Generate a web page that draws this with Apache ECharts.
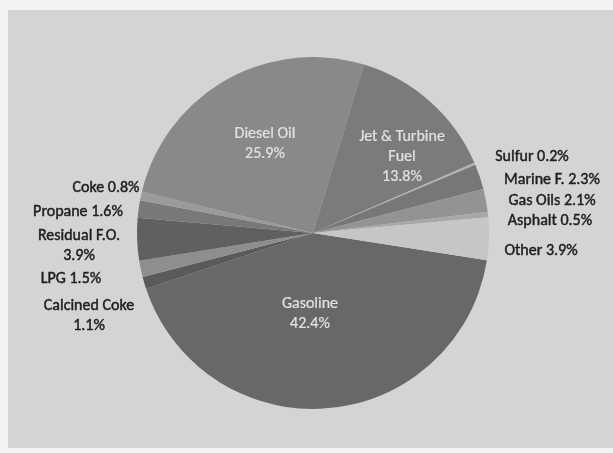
<!DOCTYPE html>
<html>
<head>
<meta charset="utf-8">
<style>
  html, body { margin: 0; padding: 0; background: #f3f3f3; }
  #chart { width: 613px; height: 453px; }
</style>
<script src="https://cdn.jsdelivr.net/npm/echarts@6/dist/echarts.min.js"></script>
</head>
<body>
<div id="chart"></div>
<script>
// Refinery product shares (%), listed clockwise starting with Gasoline
const products = ['Gasoline', 'Calcined Coke', 'LPG', 'Residual F.O.', 'Propane', 'Coke',
                  'Diesel Oil', 'Jet & Turbine Fuel', 'Sulfur', 'Marine F.', 'Gas Oils', 'Asphalt', 'Other'];
const shares = [42.4, 1.1, 1.5, 3.9, 1.6, 0.8, 25.9, 13.8, 0.2, 2.3, 2.1, 0.5, 3.9];

// Grey shade for each slice
const sliceColors = ['#686868', '#5a5a5a', '#8e8e8e', '#606060', '#787878', '#9a9a9a',
                     '#898989', '#7b7b7b', '#b4b4b4', '#777777', '#939393', '#a8a8a8', '#c6c6c6'];

// How each label is written: line breaks inside the name, and before the value
const labelText = {
  'Gasoline': 'Gasoline\n{v}',
  'Diesel Oil': 'Diesel Oil\n{v}',
  'Jet & Turbine Fuel': 'Jet & Turbine\nFuel\n{v}',
  'Residual F.O.': 'Residual F.O.\n{v}',
  'Calcined Coke': 'Calcined Coke\n{v}'
};
const insideLabels = ['Gasoline', 'Diesel Oil', 'Jet & Turbine Fuel'];

// Label anchor points (centre of each text block) in chart pixels
const labelSpot = {
  'Gasoline': [310, 314],
  'Diesel Oil': [265, 144],
  'Jet & Turbine Fuel': [402, 157],
  'Sulfur': [532, 157],
  'Marine F.': [552, 180],
  'Gas Oils': [552, 201],
  'Asphalt': [550, 221],
  'Other': [541, 251],
  'Coke': [106, 188],
  'Propane': [78, 212],
  'Residual F.O.': [79, 246],
  'LPG': [71, 279],
  'Calcined Coke': [89, 316]
};

const FONT = 'Carlito, Lato, "Open Sans", sans-serif';

const data = products.map((name, i) => {
  const inside = insideLabels.includes(name);
  const ink = inside ? '#e2e2e2' : '#1e1e1e';
  return {
    name: name,
    value: shares[i],
    itemStyle: { color: sliceColors[i] },
    label: {
      color: ink,
      textBorderColor: ink,
      textBorderWidth: inside ? 0.2 : 0.45
    }
  };
});

const chart = echarts.init(document.getElementById('chart'), null, { renderer: 'canvas' });
chart.setOption({
  animation: false,
  backgroundColor: '#f3f3f3',
  graphic: [{
    type: 'rect',
    z: -10,
    shape: { x: 8, y: 10, width: 605, height: 438 },
    style: { fill: '#d4d4d4' }
  }],
  series: [{
    type: 'pie',
    center: [313, 233],
    radius: 176,
    startAngle: -8.9,
    clockwise: true,
    data: data,
    label: {
      show: true,
      position: 'outside',
      fontFamily: FONT,
      fontSize: 16,
      lineHeight: 20,
      align: 'center',
      overflow: 'none',
      alignTo: 'none',
      formatter: p => {
        const v = p.value.toFixed(1) + '%';
        const t = labelText[p.name];
        return t ? t.replace('{v}', v) : p.name + ' ' + v;
      }
    },
    labelLine: { show: false },
    labelLayout: params => {
      const name = products[params.dataIndex];
      const spot = labelSpot[name];
      return {
        x: spot[0],
        y: spot[1],
        align: 'center',
        verticalAlign: 'middle',
        hideOverlap: false,
        moveOverlap: false
      };
    },
    emphasis: { disabled: true }
  }]
});
</script>
</body>
</html>
